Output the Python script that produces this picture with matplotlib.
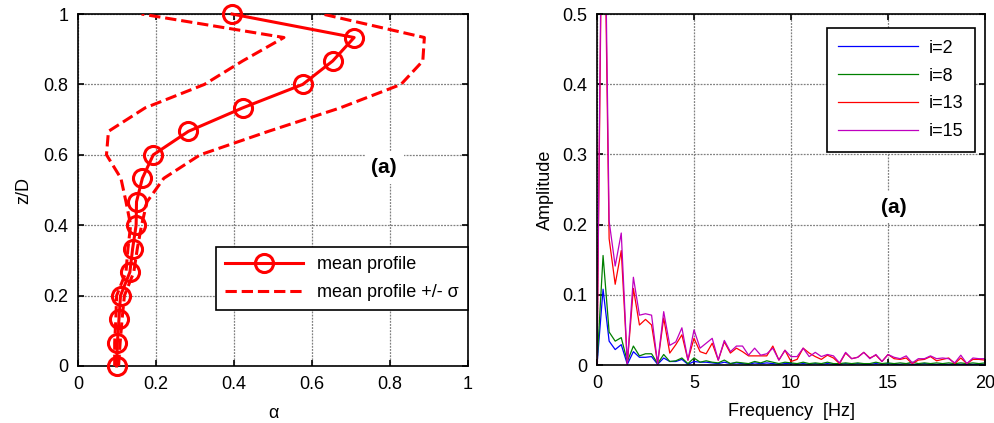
"""Vertical alpha profile (left) and amplitude spectra (right), MATLAB-style look."""
import numpy as np
import matplotlib

matplotlib.use("Agg")
import matplotlib.pyplot as plt

plt.rcParams["font.family"] = ["Liberation Sans", "DejaVu Sans"]

# --- left panel: mean alpha profile and its spread -------------------------
z_over_d = np.arange(16) / 15.0
alpha_mean = [0.099, 0.101, 0.105, 0.109, 0.133, 0.140, 0.149, 0.150,
              0.165, 0.193, 0.283, 0.422, 0.576, 0.653, 0.708, 0.395]
alpha_sigma = [0.005, 0.007, 0.008, 0.010, 0.010, 0.012, 0.014, 0.027,
               0.055, 0.120, 0.205, 0.250, 0.252, 0.231, 0.180, 0.232]

# --- right panel: amplitude spectra, 65 bins from 0 to 20 Hz ---------------
freq_hz = np.linspace(0.0, 20.0, 65)
amp_i2 = [0.0, 0.108, 0.034, 0.022, 0.029, 0.001, 0.019, 0.011, 0.011, 0.012,
          0.001, 0.010, 0.005, 0.005, 0.008, 0.001, 0.005, 0.004, 0.004, 0.003,
          0.002, 0.004, 0.002, 0.003, 0.002, 0.001, 0.003, 0.002, 0.003, 0.002,
          0.001, 0.002, 0.002, 0.001, 0.002, 0.001, 0.002, 0.001, 0.002, 0.001,
          0.001, 0.002, 0.001, 0.002, 0.001, 0.001, 0.002, 0.001, 0.002, 0.001,
          0.001, 0.002, 0.001, 0.001, 0.002, 0.001, 0.001, 0.001, 0.001, 0.001,
          0.001, 0.001, 0.001, 0.001, 0.001]
amp_i8 = [0.0, 0.156, 0.047, 0.034, 0.039, 0.005, 0.027, 0.013, 0.016, 0.016,
          0.002, 0.015, 0.005, 0.006, 0.010, 0.002, 0.010, 0.004, 0.006, 0.004,
          0.003, 0.007, 0.002, 0.004, 0.003, 0.002, 0.005, 0.003, 0.006, 0.004,
          0.002, 0.004, 0.003, 0.002, 0.004, 0.002, 0.003, 0.002, 0.004, 0.002,
          0.002, 0.003, 0.002, 0.003, 0.002, 0.002, 0.004, 0.002, 0.003, 0.002,
          0.003, 0.002, 0.004, 0.002, 0.003, 0.002, 0.003, 0.002, 0.003, 0.002,
          0.003, 0.002, 0.003, 0.002, 0.003]
amp_i13 = [0.0, 0.80, 0.180, 0.115, 0.163, 0.002, 0.109, 0.057, 0.065, 0.057,
           0.002, 0.067, 0.017, 0.029, 0.043, 0.007, 0.038, 0.019, 0.016, 0.031,
           0.007, 0.033, 0.017, 0.024, 0.019, 0.013, 0.013, 0.013, 0.013, 0.027,
           0.007, 0.021, 0.005, 0.008, 0.024, 0.017, 0.012, 0.008, 0.014, 0.010,
           0.002, 0.017, 0.009, 0.011, 0.018, 0.010, 0.014, 0.005, 0.015, 0.009,
           0.008, 0.010, 0.002, 0.007, 0.008, 0.012, 0.006, 0.008, 0.010, 0.002,
           0.010, 0.002, 0.008, 0.008, 0.007]
amp_i15 = [0.0, 0.85, 0.205, 0.141, 0.188, 0.002, 0.125, 0.071, 0.073, 0.071,
           0.002, 0.076, 0.028, 0.033, 0.053, 0.007, 0.050, 0.024, 0.031, 0.038,
           0.007, 0.035, 0.019, 0.027, 0.027, 0.014, 0.024, 0.014, 0.016, 0.024,
           0.007, 0.021, 0.012, 0.012, 0.024, 0.012, 0.018, 0.012, 0.015, 0.013,
           0.003, 0.018, 0.009, 0.011, 0.018, 0.009, 0.015, 0.005, 0.015, 0.011,
           0.009, 0.013, 0.003, 0.009, 0.009, 0.013, 0.009, 0.010, 0.009, 0.003,
           0.014, 0.002, 0.010, 0.009, 0.009]

spectra = [("i=2", amp_i2, (0.0, 0.0, 1.0)),
           ("i=8", amp_i8, (0.0, 0.5, 0.0)),
           ("i=13", amp_i13, (1.0, 0.0, 0.0)),
           ("i=15", amp_i15, (0.75, 0.0, 0.75))]

FS = 13


def _matlab_axes(ax):
    ax.grid(True, linestyle=(0, (1.5, 1.0)), color="0.5", linewidth=0.9)
    ax.tick_params(direction="in", top=True, right=True, labelsize=FS,
                   length=4, width=1.2, pad=7)
    for sp in ax.spines.values():
        sp.set_linewidth(1.2)


fig = plt.figure(figsize=(9.95, 4.23), dpi=100)

# left: profile
ax1 = fig.add_axes([0.0784, 0.1348, 0.392, 0.832])
mean = np.asarray(alpha_mean)
sigma = np.asarray(alpha_sigma)
ax1.plot(mean, z_over_d, "-o", color="red", lw=2.2, ms=13, mew=2.2,
         mfc="none", clip_on=False, zorder=4, label="mean profile")
ax1.plot(mean - sigma, z_over_d, "--", color="red", lw=2.2, zorder=3,
         label="mean profile +/- σ")
ax1.plot(mean + sigma, z_over_d, "--", color="red", lw=2.2, zorder=3)
ax1.set_xlim(0, 1)
ax1.set_ylim(0, 1)
ax1.set_xticks(np.arange(0, 1.01, 0.2))
ax1.set_yticks(np.arange(0, 1.01, 0.2))
ax1.set_xticklabels(["0", "0.2", "0.4", "0.6", "0.8", "1"])
ax1.set_yticklabels(["0", "0.2", "0.4", "0.6", "0.8", "1"])
ax1.set_xlabel("α", fontsize=FS, labelpad=9)
ax1.set_ylabel("z/D", fontsize=FS, labelpad=8)
_matlab_axes(ax1)
ax1.text(0.785, 0.565, "(a)", transform=ax1.transAxes, fontsize=15,
         fontweight="bold", ha="center", va="center", zorder=5,
         bbox=dict(facecolor="white", edgecolor="none", pad=5))
leg1 = ax1.legend(loc="lower right", bbox_to_anchor=(1.0, 0.159),
                  borderaxespad=0, fontsize=FS, handlelength=4.3,
                  fancybox=False, framealpha=1, edgecolor="black",
                  borderpad=0.5, labelspacing=0.6, handletextpad=0.8)
leg1.get_frame().set_linewidth(1.2)

# right: spectra
ax2 = fig.add_axes([0.6, 0.1371, 0.39, 0.8298])
for label, amp, color in spectra:
    ax2.plot(freq_hz, amp, color=color, lw=0.9, label=label)
ax2.set_xlim(0, 20)
ax2.set_ylim(0, 0.5)
ax2.set_xticks([0, 5, 10, 15, 20])
ax2.set_yticks(np.arange(0, 0.51, 0.1))
ax2.set_yticklabels(["0", "0.1", "0.2", "0.3", "0.4", "0.5"])
ax2.set_xlabel("Frequency  [Hz]", fontsize=FS, labelpad=8)
ax2.set_ylabel("Amplitude", fontsize=FS, labelpad=6)
_matlab_axes(ax2)
ax2.text(15.3, 0.225, "(a)", fontsize=15, fontweight="bold",
         ha="center", va="center", zorder=5,
         bbox=dict(facecolor="white", edgecolor="none", pad=5))
leg2 = ax2.legend(loc="upper right", bbox_to_anchor=(0.974, 0.96),
                  borderaxespad=0, fontsize=FS, handlelength=4.4,
                  fancybox=False, framealpha=1, edgecolor="black",
                  borderpad=0.65, labelspacing=0.6, handletextpad=0.6)
leg2.get_frame().set_linewidth(1.2)

fig.savefig("out.png", dpi=100)
